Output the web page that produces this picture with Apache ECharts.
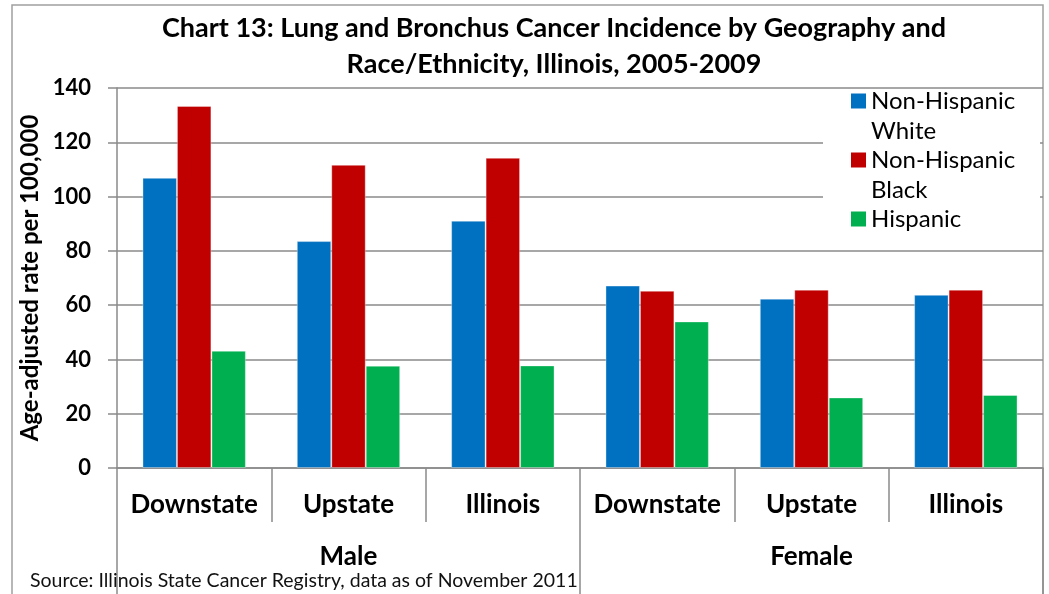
<!DOCTYPE html>
<html>
<head>
<meta charset="utf-8">
<script src="https://cdn.jsdelivr.net/npm/echarts@6/dist/echarts.min.js"></script>
<style>
  html, body { margin: 0; padding: 0; background: #fff; }
  #chart { width: 1049px; height: 594px; }
</style>
</head>
<body>
<div id="chart"></div>
<script>
// values
const places = ["Downstate", "Upstate", "Illinois", "Downstate", "Upstate", "Illinois"];
const sexes = ["Male", "Female"];
const seriesNames = ["Non-Hispanic White", "Non-Hispanic Black", "Hispanic"];
// blank first line so the swatch lines up with the first text line
const legendLabels = [" \nNon-Hispanic\nWhite", " \nNon-Hispanic\nBlack", " \nHispanic\n "];
const whiteRates = [106.9, 83.6, 91.1, 67.2, 62.4, 63.8];
const blackRates = [133.4, 111.7, 114.3, 65.3, 65.7, 65.7];
const hispanicRates = [43.2, 37.7, 37.8, 54.0, 26.0, 26.9];
const yTicks = [0, 20, 40, 60, 80, 100, 120, 140];

const colors = ["#0070C0", "#C00000", "#00B050"];
const font = "Lato";
const gridGray = "#8a8a8a";

const chart = echarts.init(document.getElementById("chart"));

const values = [whiteRates, blackRates, hispanicRates];

chart.setOption({
  animation: false,
  textStyle: { fontFamily: font },
  title: {
    text: "Chart 13: Lung and Bronchus Cancer Incidence by Geography and\nRace/Ethnicity, Illinois, 2005-2009",
    left: 554,
    top: 10,
    padding: 0,
    textAlign: "center",
    textStyle: {
      fontFamily: font,
      fontSize: 27,
      fontWeight: "bold",
      color: "#000",
      lineHeight: 36,
    },
  },
  legend: {
    orient: "vertical",
    left: 851,
    top: 56,
    padding: 0,
    itemGap: -31,
    itemWidth: 15,
    itemHeight: 15,
    icon: "rect",
    data: seriesNames,
    formatter: (name) => legendLabels[seriesNames.indexOf(name)],
    itemStyle: { borderWidth: 0 },
    textStyle: {
      fontFamily: font,
      fontSize: 24,
      color: "#000",
      lineHeight: 30,
    },
    z: 5,
  },
  grid: {
    left: 117,
    right: 6,
    top: 88,
    bottom: 126,
  },
  xAxis: [
    {
      type: "category",
      data: places,
      axisLine: { lineStyle: { color: gridGray, width: 1.5 } },
      axisTick: {
        show: true,
        interval: 0,
        length: 54,
        alignWithLabel: false,
        lineStyle: { color: gridGray, width: 1.5 },
      },
      axisLabel: {
        interval: 0,
        margin: 24,
        fontFamily: font,
        fontSize: 26,
        fontWeight: "bold",
        color: "#000",
      },
    },
    {
      type: "category",
      data: sexes,
      position: "bottom",
      axisLine: { show: false },
      axisTick: {
        show: true,
        interval: 0,
        length: 140,
        alignWithLabel: false,
        lineStyle: { color: gridGray, width: 1.5 },
      },
      axisLabel: {
        interval: 0,
        margin: 76,
        fontFamily: font,
        fontSize: 26,
        fontWeight: "bold",
        color: "#000",
      },
      splitLine: { show: false },
    },
  ],
  yAxis: {
    type: "value",
    min: yTicks[0],
    max: yTicks[yTicks.length - 1],
    interval: 20,
    name: "Age-adjusted rate per 100,000",
    nameLocation: "middle",
    nameGap: 70,
    nameTextStyle: {
      fontFamily: font,
      fontSize: 24,
      fontWeight: "bold",
      color: "#000",
    },
    axisLine: { show: true, lineStyle: { color: gridGray, width: 1.5 } },
    axisTick: { show: true, length: 9, lineStyle: { color: gridGray, width: 1.5 } },
    axisLabel: {
      margin: 26,
      fontFamily: font,
      fontSize: 22,
      fontWeight: "bold",
      color: "#000",
    },
    splitLine: { show: true, lineStyle: { color: gridGray, width: 1.5 } },
  },
  graphic: [
    {
      // outer chart border
      type: "rect",
      shape: { x: 12, y: 5, width: 1031, height: 600 },
      style: { fill: null, stroke: "#a0a0a0", lineWidth: 1.5 },
      z: 0,
      silent: true,
    },
    {
      // legend box hides the gridlines behind it
      type: "rect",
      shape: { x: 823, y: 90, width: 217, height: 150 },
      style: { fill: "#fff" },
      z: 3,
      silent: true,
    },
    {
      type: "text",
      left: 30,
      top: 571,
      style: {
        text: "Source: Illinois State Cancer Registry, data as of November 2011",
        fontFamily: font,
        fontSize: 19.5,
        fill: "#111",
      },
      z: 5,
    },
  ],
  series: seriesNames.map((name, i) => ({
    name: name,
    type: "bar",
    xAxisIndex: 0,
    data: values[i],
    barGap: "0%",
    barCategoryGap: "33%",
    itemStyle: {
      color: colors[i],
      borderColor: "rgba(255,255,255,0.35)",
      borderWidth: 1,
    },
  })),
});
</script>
</body>
</html>
